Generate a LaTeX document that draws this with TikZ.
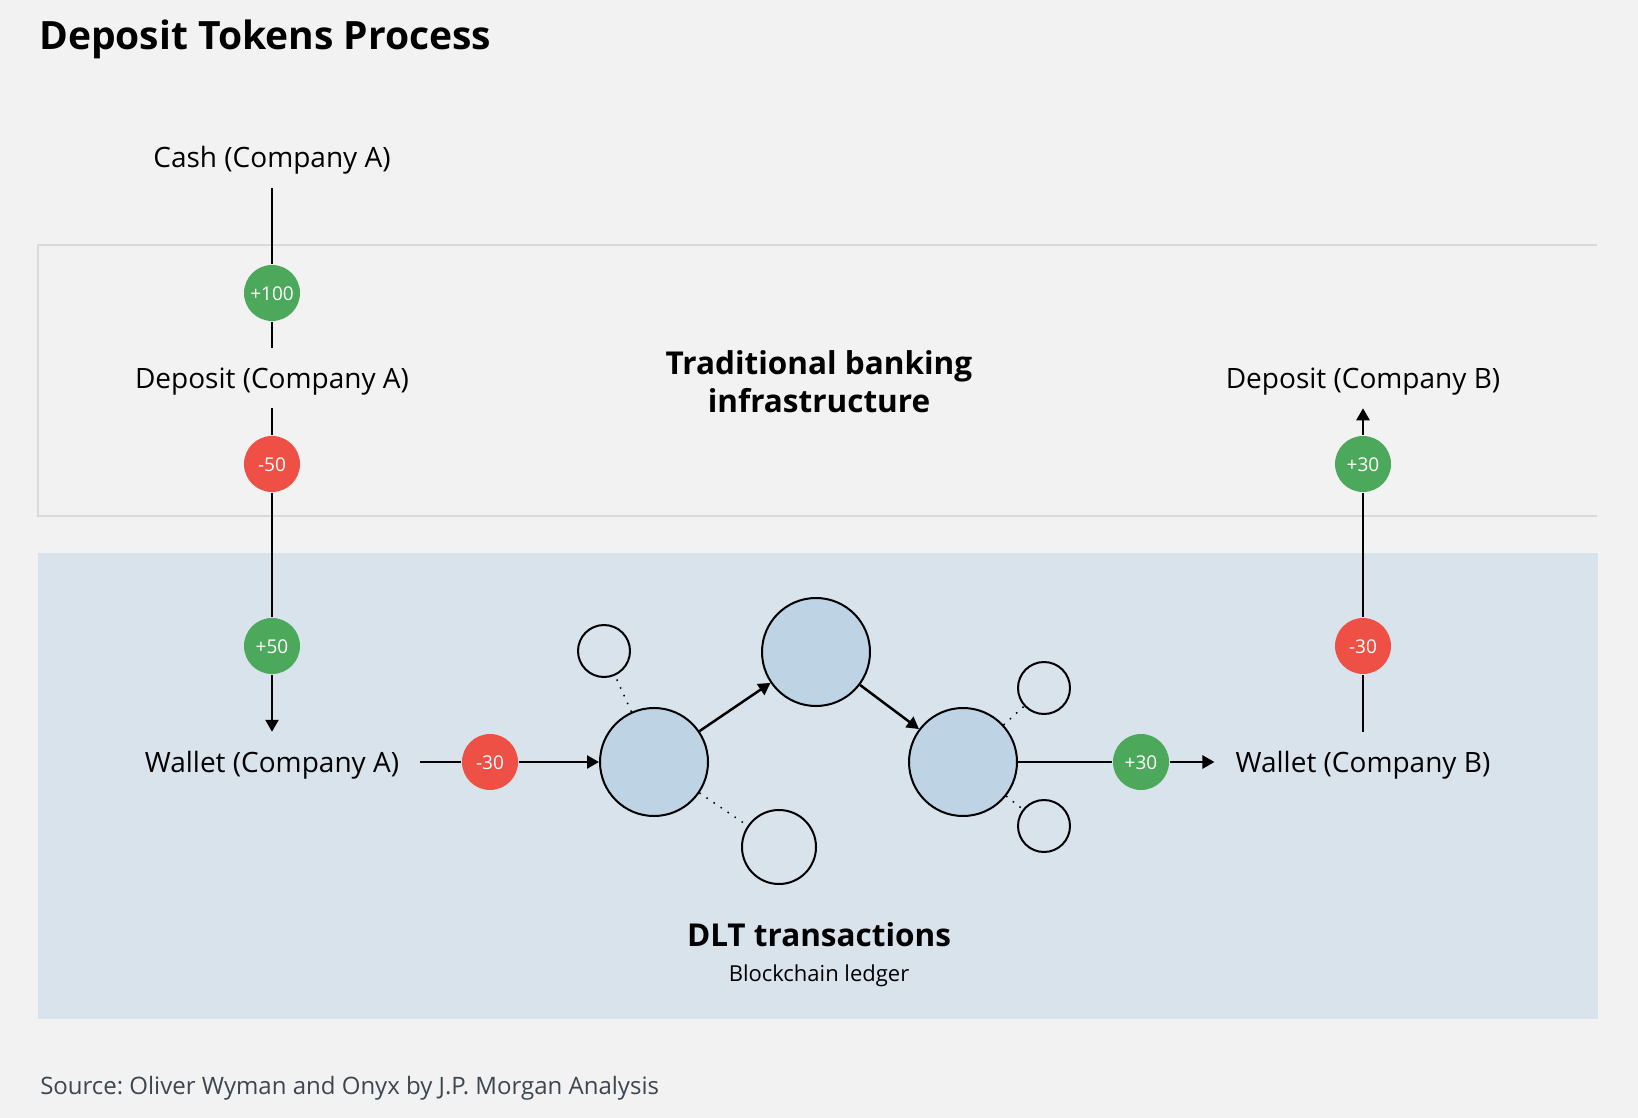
\documentclass[tikz,border=0pt]{standalone}
\usepackage{fontspec}
\setmainfont{Open Sans}
\frenchspacing
\usetikzlibrary{arrows.meta,positioning}

\definecolor{pagegray}{HTML}{F2F2F2}
\definecolor{framegray}{HTML}{DADADA}
\definecolor{dltblue}{HTML}{D9E3EC}
\definecolor{blockblue}{HTML}{BED3E4}
\definecolor{gaingreen}{HTML}{4CA85B}
\definecolor{lossred}{HTML}{EF5045}
\definecolor{sourcegray}{HTML}{3C4650}

\begin{document}
\begin{tikzpicture}[x=1pt,y=-1pt,>={Triangle[length=12pt,width=13pt]},line width=2.5pt]
  \tikzstyle{account} = [font=\fontsize{28}{34}\selectfont, text height=22pt, text depth=2pt, minimum height=58pt, inner xsep=20pt]
  \tikzstyle{badge} = [circle, minimum size=56pt, inner sep=0pt, text height=14pt, text depth=0pt, text=white, font=\fontsize{19}{22}\selectfont]
  \tikzstyle{gain} = [badge, fill=gaingreen]
  \tikzstyle{loss} = [badge, fill=lossred]
  \tikzstyle{block} = [circle, draw, line width=2pt, fill=blockblue, minimum size=108pt, inner sep=0pt]
  \tikzstyle{peer} = [circle, draw, line width=2pt, inner sep=0pt]
  \tikzstyle{gossip} = [line width=1.5pt, dash pattern=on 1.5pt off 7pt]

  % page and the two layers
  \fill[pagegray] (0,0) rectangle (1638,1118);
  \draw[framegray, line width=2pt] (1597,245) -| (38,516) -- (1597,516);
  \fill[dltblue] (38,553) rectangle (1598,1019);

  \node[anchor=west, inner sep=0pt, font=\bfseries\fontsize{39}{44}\selectfont] (title) at (38,39) {Deposit Tokens Process};
  \node[align=center, font=\bfseries\fontsize{31.5}{38}\selectfont] (banking) at (819,382) {Traditional banking\\infrastructure};
  \node[font=\bfseries\fontsize{31.5}{36}\selectfont] (dlt) at (819,935) {DLT transactions};
  \node[font=\fontsize{22}{26}\selectfont] (ledger) at (819,976) {Blockchain ledger};
  \node[anchor=west, inner sep=0pt, text=sourcegray, font=\fontsize{24}{28}\selectfont] (source) at (39,1088) {Source: Oliver Wyman and Onyx by J.P. Morgan Analysis};

  % company A
  \node[account] (cash_a) at (272,158) {Cash (Company A)};
  \node[gain] (gain_100) at (272,293) {+100};
  \node[account] (deposit_a) at (272,378) {Deposit (Company A)};
  \node[loss] (loss_50) at (272,464) {-50};
  \node[gain] (gain_50) at (272,646) {+50};
  \node[account] (wallet_a) at (272,762) {Wallet (Company A)};
  \node[loss] (loss_30a) at (490,762) {-30};

  % ledger
  \node[block] (tx_a) at (654,762) {};
  \node[block] (tx_b) at (816,652) {};
  \node[block] (tx_c) at (963,762) {};
  \node[peer, minimum size=52pt] (peer_a) at (604,651) {};
  \node[peer, minimum size=74pt] (peer_b) at (779,847) {};
  \node[peer, minimum size=52pt] (peer_c) at (1044,688) {};
  \node[peer, minimum size=52pt] (peer_d) at (1044,826) {};

  % company B
  \node[gain] (gain_30a) at (1141,762) {+30};
  \node[account] (wallet_b) at (1363,762) {Wallet (Company B)};
  \node[loss] (loss_30b) at (1363,646) {-30};
  \node[gain] (gain_30b) at (1363,464) {+30};
  \node[account] (deposit_b) at (1363,378) {Deposit (Company B)};

  \draw (cash_a) -- (gain_100);
  \draw (gain_100) -- (deposit_a);
  \draw (deposit_a) -- (loss_50);
  \draw (loss_50) -- (gain_50);
  \draw[->] (gain_50) -- (wallet_a);
  \draw (wallet_a) -- (loss_30a);
  \draw[->] (loss_30a) -- (tx_a);
  \draw[->] (tx_a) -- (tx_b);
  \draw[->] (tx_b) -- (tx_c);
  \draw (tx_c) -- (gain_30a);
  \draw[->] (gain_30a) -- (wallet_b);
  \draw (wallet_b) -- (loss_30b);
  \draw (loss_30b) -- (gain_30b);
  \draw[->] (gain_30b) -- (deposit_b);

  \draw[gossip] (tx_a) -- (peer_a);
  \draw[gossip] (tx_a) -- (peer_b);
  \draw[gossip] (tx_c) -- (peer_c);
  \draw[gossip] (tx_c) -- (peer_d);
\end{tikzpicture}
\end{document}
